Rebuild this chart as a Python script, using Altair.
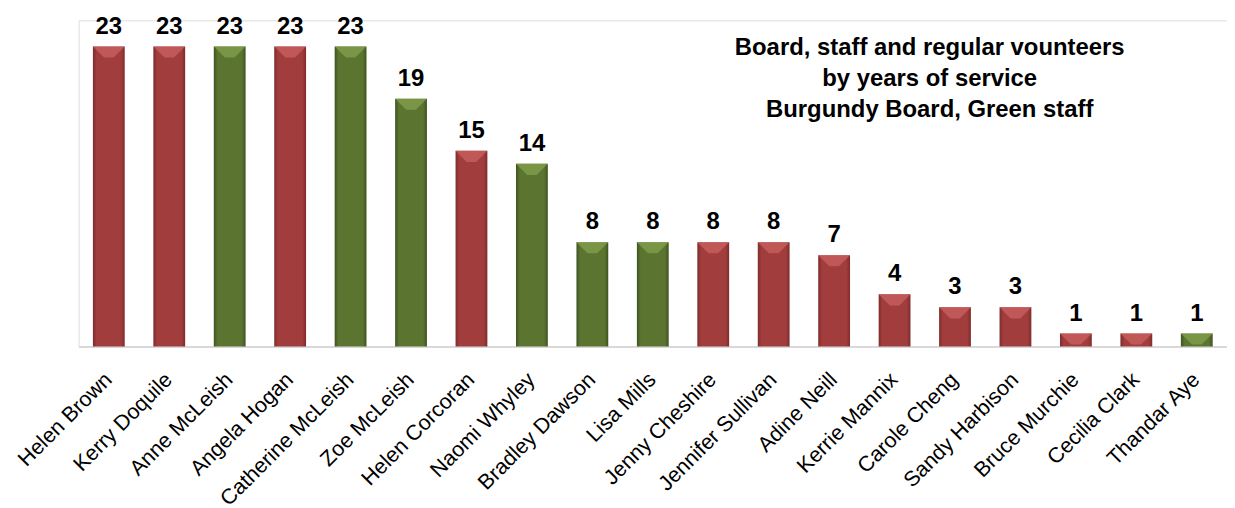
import altair as alt
import pandas as pd

names = ["Helen Brown", "Kerry Doquile", "Anne McLeish", "Angela Hogan", "Catherine McLeish",
         "Zoe McLeish", "Helen Corcoran", "Naomi Whyley", "Bradley Dawson", "Lisa Mills",
         "Jenny Cheshire", "Jennifer Sullivan", "Adine Neill", "Kerrie Mannix", "Carole Cheng",
         "Sandy Harbison", "Bruce Murchie", "Cecilia Clark", "Thandar Aye"]
years = [23, 23, 23, 23, 23, 19, 15, 14, 8, 8, 8, 8, 7, 4, 3, 3, 1, 1, 1]
roles = ["Board", "Board", "Staff", "Board", "Staff", "Staff", "Board", "Staff", "Staff", "Staff",
         "Board", "Board", "Board", "Board", "Board", "Board", "Board", "Board", "Staff"]
title_lines = ["Board, staff and regular vounteers", "by years of service", "Burgundy Board, Green staff"]

df = pd.DataFrame({"name": names, "years": years, "role": roles})

FONT = "Liberation Sans"

x_enc = alt.X("name:N", sort=names, title=None,
              scale=alt.Scale(paddingInner=0.47, paddingOuter=0.235),
              axis=alt.Axis(labelAngle=-45, labelAlign="right", labelBaseline="middle",
                            labelFontSize=21.5, labelFont=FONT, labelColor="#000000",
                            labelPadding=30, ticks=False, domainColor="#d9d9d9",
                            domainWidth=2, labelOverlap=False, labelLimit=300))
y_enc = alt.Y("years:Q", title=None, scale=alt.Scale(domain=[0, 25], nice=False),
              axis=None)

base = alt.Chart(df)


def grad(dark, mid):
    return alt.Gradient(gradient="linear", x1=0, x2=1, y1=0, y2=0,
                        stops=[alt.GradientStop(color=dark, offset=0),
                               alt.GradientStop(color=mid, offset=0.12),
                               alt.GradientStop(color=mid, offset=0.88),
                               alt.GradientStop(color=dark, offset=1)])


board_bars = base.transform_filter(alt.datum.role == "Board").mark_bar(
    size=32, color=grad("#7e2c2c", "#a23d3d")).encode(x=x_enc, y=y_enc)
staff_bars = base.transform_filter(alt.datum.role == "Staff").mark_bar(
    size=32, color=grad("#3f5420", "#5b7430")).encode(x=x_enc, y=y_enc)

bevel = base.mark_point(
    shape="M-1,0 L1,0 L0.3,0.7 L-0.3,0.7 Z", filled=True, size=1024, opacity=0.75,
    strokeWidth=0).encode(
    x=x_enc, y=y_enc,
    color=alt.Color("role:N", legend=None,
                    scale=alt.Scale(domain=["Board", "Staff"], range=["#c96262", "#83a04e"])))

labels = base.mark_text(dy=-13, baseline="alphabetic", fontSize=24, fontWeight="bold",
                        font=FONT, color="#000000").encode(x=x_enc, y=y_enc, text="years:Q")

title = alt.Chart(pd.DataFrame({"t": ["\n".join(title_lines)]})).mark_text(
    lineBreak="\n", fontSize=24, fontWeight="bold", font=FONT, color="#000000",
    align="center", baseline="top", lineHeight=31).encode(
    text="t:N", x=alt.value(856), y=alt.value(16))

chart = alt.layer(board_bars, staff_bars, bevel, labels, title).properties(
    width=1155, height=328,
    autosize=alt.AutoSizeParams(type="none"),
    padding={"left": 71, "top": 11, "right": 0, "bottom": 165},
).configure_view(stroke=None).configure(background="#ffffff")

chart.save("out.html", embed_options={"renderer": "svg", "actions": False})
